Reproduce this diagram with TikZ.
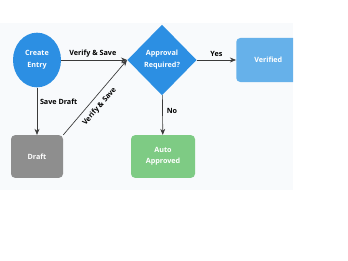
\documentclass[tikz,border=0pt]{standalone}
\usepackage{fontspec}
\setmainfont{Open Sans}
\usetikzlibrary{arrows.meta, positioning, shapes.geometric}
\definecolor{flowBlue}{HTML}{2C8FE3}
\definecolor{flowLight}{HTML}{66B1EA}
\definecolor{flowGray}{HTML}{8E8E8E}
\definecolor{flowGreen}{HTML}{7ECB84}
\definecolor{flowBack}{HTML}{F8FAFC}
\definecolor{flowLine}{HTML}{3A3A3A}
\tikzset{
  arrowF/.style={-{Stealth[length=1.6mm, width=1.3mm]}, color=flowLine, line width=0.5pt},
  lbl/.style={font=\bfseries\fontsize{5.4}{7}\selectfont, text=black, inner sep=1pt},
  boxF/.style={rectangle, rounded corners=3pt, text=white, align=center,
               font=\bfseries\fontsize{5.4}{8}\selectfont, inner sep=0pt},
}

\begin{document}
\begin{tikzpicture}[x=0.75pt, y=-0.75pt]
    \useasboundingbox (0,0) rectangle (348,260);
    \fill[flowBack] (0,23) rectangle (293,190);
    % nodes
    \node[ellipse, fill=flowBlue, minimum width=36pt, minimum height=41pt,
          text=white, align=center, inner sep=0pt,
          font=\bfseries\fontsize{5.4}{9}\selectfont] (create) at (37,60) {Create\\Entry};
    \node[diamond, fill=flowBlue, minimum width=52pt, minimum height=53pt,
          text=white, align=center, inner sep=0pt,
          font=\bfseries\fontsize{5.4}{9}\selectfont] (appr) at (162,60) {Approval\\Required?};
    \begin{scope}
      \clip (0,23) rectangle (293,190);
      \node[boxF, fill=flowLight, minimum width=48pt, minimum height=33pt,
            anchor=west] (ver) at (236,60) {Verified};
    \end{scope}
    \node[boxF, fill=flowGray, minimum width=39pt, minimum height=32pt] (draft) at (37,156.5) {Draft};
    \node[boxF, fill=flowGreen, minimum width=48pt, minimum height=32pt] (auto) at (163,156.5) {Auto\\Approved};
    % connectors
    \draw[arrowF] (create) -- node[lbl, above=1pt, pos=0.48] {Verify \& Save} (appr.west);
    \draw[arrowF] (create) -- node[lbl, right=1pt, pos=0.3] {Save Draft} (draft);
    \draw[arrowF] (draft.north east) -- node[lbl, rotate=48.7, anchor=north, pos=0.46, inner ysep=4pt] {Verify \& Save} (appr.west);
    \draw[arrowF] (appr) -- node[lbl, right=2pt, pos=0.4] {No} (auto);
    \draw[arrowF] (appr) -- node[lbl, above=1pt] {Yes} (ver.west);
\end{tikzpicture}
\end{document}
